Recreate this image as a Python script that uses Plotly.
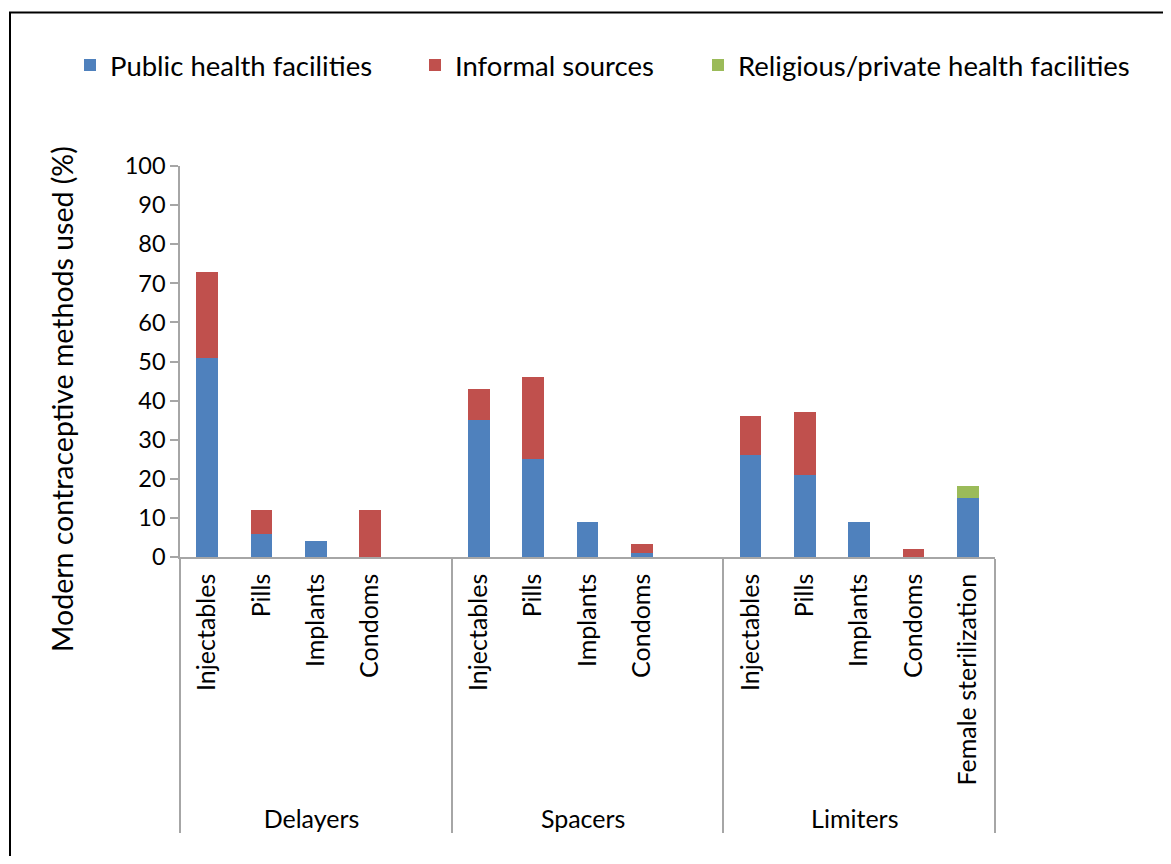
import plotly.graph_objects as go

groups = ["Delayers"] * 5 + ["Spacers"] * 5 + ["Limiters"] * 5
methods = ["Injectables", "Pills", "Implants", "Condoms", " ",
           "Injectables", "Pills", "Implants", "Condoms", " ",
           "Injectables", "Pills", "Implants", "Condoms", "Female sterilization"]

public = [51, 6, 4, 0, None, 35, 25, 9, 1, None, 26, 21, 9, 0, 15]
informal = [22, 6, 0, 12, None, 8, 21, 0, 2.3, None, 10, 16, 0, 2, 0]
religious = [0, 0, 0, 0, None, 0, 0, 0, 0, None, 0, 0, 0, 0, 3.2]

series_names = ["Public health facilities", "Informal sources", "Religious/private health facilities"]
series_colors = ["#4F81BD", "#C0504D", "#9BBB59"]

FONT = "Lato"

# page offset (body margin) and plot-area geometry in page pixels
OFF = 8
W, H = 1155, 848
L, R, T, B = 180 - OFF, 995 - OFF, 166 - OFF, 557 - OFF

def px(x_page):
    return (x_page - OFF - L) / (R - L)

def py(y_page):
    return (B - (y_page - OFF)) / (B - T)

legend_ids = ["legend", "legend2", "legend3"]
legend_text_x = [110, 455, 738]

fig = go.Figure()
for name, vals, col, lid in zip(series_names, [public, informal, religious], series_colors, legend_ids):
    fig.add_trace(go.Bar(x=[groups, methods], y=vals, name=name, legend=lid,
                         marker=dict(color=col, line=dict(width=0))))

legend_common = dict(orientation="h", xanchor="left", yanchor="middle", y=py(65),
                     font=dict(size=27.5, family=FONT, color="black"),
                     bgcolor="rgba(0,0,0,0)")

layout_legends = {}
for lid, tx in zip(legend_ids, legend_text_x):
    layout_legends[lid] = dict(legend_common, x=px(tx - 40))

fig.update_layout(
    width=W, height=H,
    margin=dict(l=L, r=W - R, t=T, b=H - B, autoexpand=False),
    barmode="stack", bargap=0.6,
    plot_bgcolor="white", paper_bgcolor="white",
    font=dict(family=FONT, color="black"),
    showlegend=True,
    xaxis=dict(type="multicategory", tickangle=-90, ticks="",
               showline=True, linecolor="#A6A6A6", linewidth=1.5,
               showdividers=True, dividercolor="#A6A6A6", dividerwidth=1.5,
               tickfont=dict(size=25, family=FONT, color="black"),
               ticklabelstandoff=5,
               automargin=False),
    yaxis=dict(range=[0, 100], dtick=10, ticks="outside", ticklen=8, tickcolor="#A6A6A6",
               tickwidth=1.5, showline=True, linecolor="#A6A6A6", linewidth=1.5,
               showgrid=False, zeroline=False,
               tickfont=dict(size=23.5, family=FONT, color="black"), automargin=False),
    shapes=[dict(type="rect", xref="paper", yref="paper",
                 x0=px(10), x1=px(1190), y0=py(12.5), y1=py(900),
                 line=dict(color="black", width=2), fillcolor="rgba(0,0,0,0)", layer="below")],
    annotations=[dict(text="Modern contraceptive methods used (%)", xref="paper", yref="paper",
                      x=px(62), y=py(399), textangle=-90, showarrow=False,
                      font=dict(size=28.5, family=FONT, color="black"),
                      xanchor="center", yanchor="middle")],
    **layout_legends,
)

fig.write_html("out.html")
